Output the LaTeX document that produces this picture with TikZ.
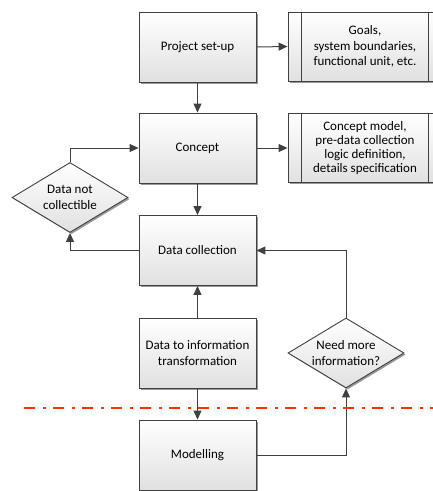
\documentclass[tikz,border=0pt]{standalone}
\usepackage{fontspec}
\setmainfont{Carlito}
\usetikzlibrary{arrows.meta,shapes.geometric,shadows}
\definecolor{edge}{HTML}{404040}
\definecolor{redline}{HTML}{FF3300}
\begin{document}
\begin{tikzpicture}[x=1pt,y=-1pt,
  font=\fontsize{13}{15.7}\selectfont,
  base/.style={draw=edge,line width=0.9pt,top color=white,bottom color=black!12,
    drop shadow={shadow xshift=1.6pt,shadow yshift=-1.6pt,fill=black!40,opacity=1},
    align=center,inner sep=0pt},
  box/.style={base,rectangle,minimum width=117pt,minimum height=70pt},
  pbox/.style={base,rectangle,minimum width=154pt,minimum height=69pt},
  dia/.style={base,diamond,aspect=1.66,minimum width=116pt,minimum height=70pt},
  conn/.style={draw=edge,line width=1pt,-{Triangle[length=9pt,width=8pt]}},
  plain/.style={draw=edge,line width=1pt}]
\useasboundingbox (0,0) rectangle (433,491);
\node[box] (ps) at (197.5,47) {Project set-up};
\node[box] (cc) at (197.5,148) {Concept};
\node[box] (dc) at (197.5,250.5) {Data collection};
\node[box] (dti) at (197.5,353) {Data to information\\transformation};
\node[box] (mod) at (197.5,455) {Modelling};
\node[pbox] (g1) at (365,46.5) {Goals,\\system boundaries,\\functional unit, etc.};
\node[pbox,font=\fontsize{13}{14.3}\selectfont] (g2) at (365,148) {Concept model,\\pre-data collection\\logic definition,\\details specification};
\foreach \n in {g1,g2}{
  \draw[plain,line width=0.9pt] ([xshift=14pt]\n.north west) -- ([xshift=14pt]\n.south west);
  \draw[plain,line width=0.9pt] ([xshift=-14pt]\n.north east) -- ([xshift=-14pt]\n.south east);
}
\node[dia] (d1) at (70,197.5) {Data not\\collectible};
\node[dia] (d2) at (346,353) {Need more\\information?};
\coordinate (c1) at (d1.north |- cc.west);
\coordinate (c2) at (d1.south |- dc.west);
\coordinate (c3) at (d2.south |- mod.east);
\coordinate (c4) at (d2.north |- dc.east);
\draw[conn] (ps) -- (cc);
\draw[conn] (ps.east) -- (g1.west);
\draw[conn] (cc.east) -- (g2.west);
\draw[conn] (cc) -- (dc);
\draw[conn] (d1.north) -- (c1) -- (cc.west);
\draw[conn] (dc.west) -- (c2) -- (d1.south);
\draw[conn] (dti) -- (dc);
\draw[conn] (dti) -- (mod);
\draw[conn] (mod.east) -- (c3) -- (d2.south);
\draw[conn] (d2.north) -- (c4) -- (dc.east);
\coordinate (r1) at (24,407.5);
\coordinate (r2) at (433,407.5);
\draw[redline,line width=2pt,dash pattern=on 11pt off 8pt on 3pt off 7pt] (r1) -- (r2);
\end{tikzpicture}
\end{document}
